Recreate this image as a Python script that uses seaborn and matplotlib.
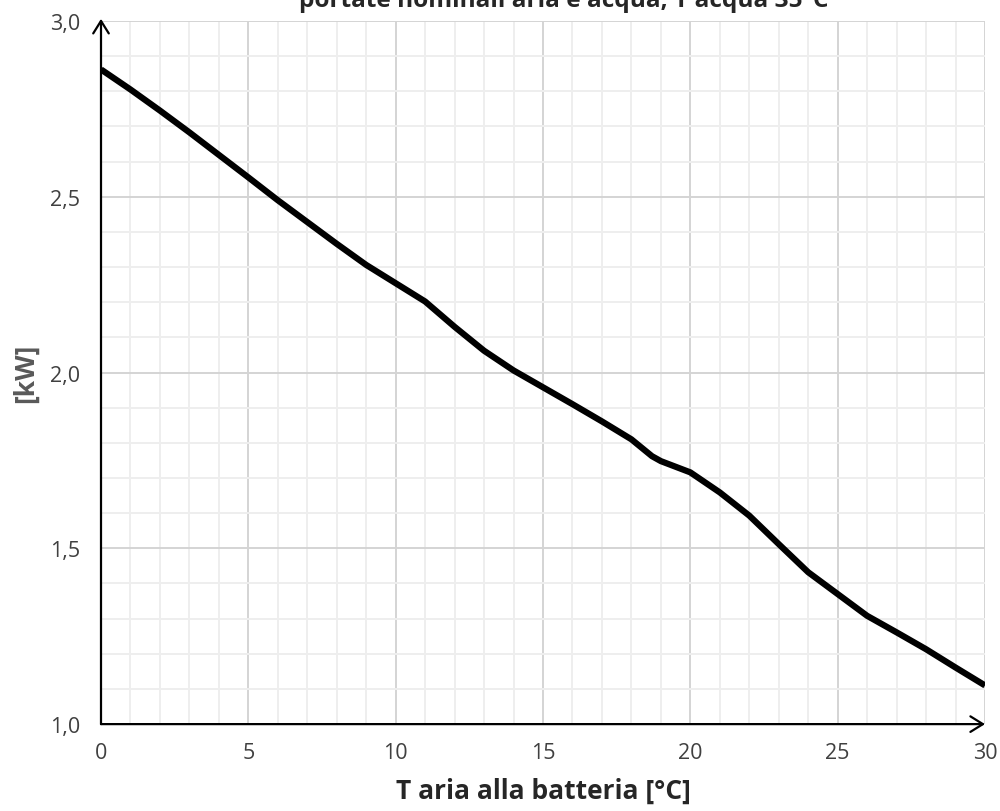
import matplotlib
matplotlib.use("Agg")
import matplotlib.pyplot as plt
from matplotlib.ticker import MultipleLocator, FuncFormatter
import seaborn as sns
import pandas as pd

# Air temperature at the coil [°C] and heat output [kW]
t_aria = [0, 1, 2, 3, 4, 5, 6, 7, 8, 9, 10, 11, 12, 13, 14, 15, 16, 17, 18,
          18.7, 19, 20, 21, 22, 23, 24, 25, 26, 27, 28, 29, 30]
potenza_kw = [2.862, 2.805, 2.745, 2.683, 2.619, 2.555, 2.490, 2.428, 2.366,
              2.306, 2.254, 2.202, 2.130, 2.062, 2.006, 1.958, 1.910, 1.861,
              1.810, 1.762, 1.748, 1.716, 1.659, 1.593, 1.512, 1.432, 1.370,
              1.308, 1.261, 1.213, 1.161, 1.110]

titolo = "portate nominali aria e acqua, T acqua 35°C"
x_label = "T aria alla batteria [°C]"
y_label = "[kW]"
x_ticks = [0, 5, 10, 15, 20, 25, 30]
y_ticks = [1.0, 1.5, 2.0, 2.5, 3.0]

df = pd.DataFrame({"T": t_aria, "P": potenza_kw})

sns.set_theme(style="white")
plt.rcParams["font.family"] = ["Open Sans", "DejaVu Sans"]

fig = plt.figure(figsize=(10, 8.12), dpi=100)
ax = fig.add_axes([0.101, 0.107, 0.884, 0.866])

sns.lineplot(data=df, x="T", y="P", ax=ax, color="black", linewidth=4.5,
             estimator=None, sort=True, zorder=5,
             solid_capstyle="butt", solid_joinstyle="round")

ax.set_xlim(0, 30)
ax.set_ylim(1.0, 3.0)
ax.set_xticks(x_ticks)
ax.set_yticks(y_ticks)
ax.xaxis.set_minor_locator(MultipleLocator(1))
ax.yaxis.set_minor_locator(MultipleLocator(0.1))
ax.yaxis.set_major_formatter(FuncFormatter(lambda v, p: f"{v:.1f}".replace(".", ",")))
ax.xaxis.set_major_formatter(FuncFormatter(lambda v, p: f"{v:g}"))

ax.grid(which="minor", color="#eeeeee", linewidth=1.4, zorder=0)
ax.grid(which="major", color="#d4d4d4", linewidth=1.4, zorder=1)
ax.set_axisbelow(True)

ax.tick_params(which="both", length=0)
ax.tick_params(axis="y", labelsize=15.5, labelcolor="#404040", pad=15)
ax.tick_params(axis="x", labelsize=15.5, labelcolor="#404040", pad=13)

for s in ax.spines.values():
    s.set_visible(False)

# Axis lines with open arrowheads
arrow = dict(arrowstyle="->,head_length=0.45,head_width=0.28", color="black",
             lw=1.6, mutation_scale=20, shrinkA=0, shrinkB=0)
ax.annotate("", xy=(0, 1.003), xytext=(0, 0), xycoords="axes fraction",
            textcoords="axes fraction", arrowprops=arrow, annotation_clip=False, zorder=6)
ax.annotate("", xy=(1.0, 0), xytext=(0, 0), xycoords="axes fraction",
            textcoords="axes fraction", arrowprops=arrow, annotation_clip=False, zorder=6)

ax.set_xlabel(x_label, fontsize=19, fontweight="bold", color="#262626", labelpad=10)
ax.set_ylabel(y_label, fontsize=19, fontweight="bold", color="#595959", labelpad=8)

fig.text(0.564, 1 - 7 / 812, titolo, ha="center", va="baseline",
         fontsize=17.6, fontweight="bold", color="#262626")

fig.savefig("out.png", dpi=100, facecolor="white")
